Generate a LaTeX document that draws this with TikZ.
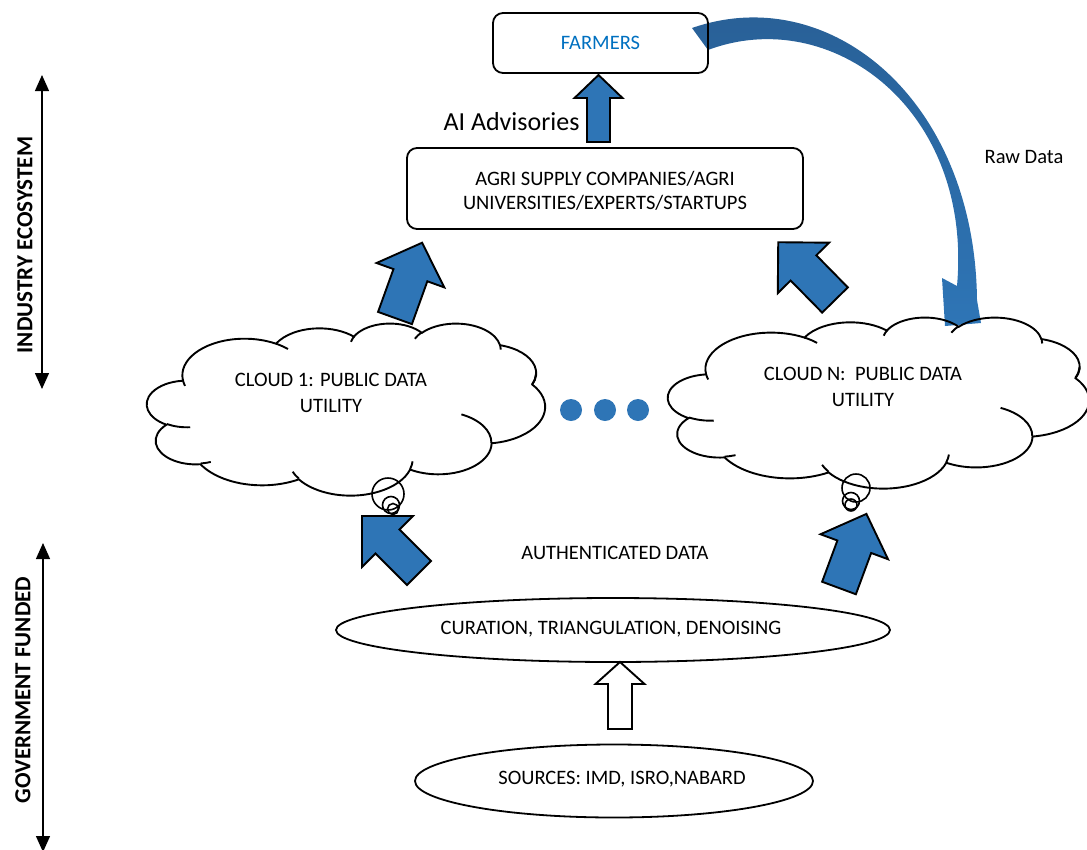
\documentclass[tikz,border=0pt]{standalone}
\usepackage{fontspec}
\setmainfont{Carlito}
\usetikzlibrary{arrows.meta,shapes.geometric}
\definecolor{ablue}{RGB}{46,117,182}
\definecolor{fblue}{RGB}{0,112,192}
\definecolor{cdark}{RGB}{40,94,148}
% OOXML arcTo (visual angles) -> TikZ parametric arc
\newcommand\oacompute[4]{%
  \pgfmathsetmacro\oath{#3}%
  \pgfmathsetmacro\oatz{#3+#4}%
  \pgfmathsetmacro\oata{atan2(#1*sin(\oath),#2*cos(\oath))}%
  \pgfmathsetmacro\oatb{atan2(#1*sin(\oatz),#2*cos(\oatz))}%
  \pgfmathsetmacro\oatd{\oatb-\oata}%
  \pgfmathsetmacro\oatd{(#4>0)?((\oatd<0)?(\oatd+360):\oatd):((\oatd>0)?(\oatd-360):\oatd)}%
  \xdef\oaS{\oata}\xdef\oaD{\oatd}}
\newcommand\oarc[4]{\pgfextra{\oacompute{#1}{#2}{#3}{#4}} arc[x radius=#1, y radius=#2, start angle=\oaS, delta angle=\oaD]}
\newcommand\cloudoutline{(39.00,143.70)
  \oarc{67.53}{91.90}{-190.4875}{123.7805}
  \oarc{53.33}{72.67}{-144.1024}{89.9452}
  \oarc{43.65}{59.45}{-145.8079}{99.7230}
  \oarc{48.57}{65.95}{-130.9861}{117.2417}
  \oarc{53.33}{72.73}{-78.7089}{109.0269}
  \oarc{67.75}{92.20}{-46.2673}{130.2690}
  \oarc{57.85}{78.67}{0.6250}{114.0333}
  \oarc{67.52}{92.15}{22.4516}{115.1726}
  \oarc{77.20}{105.43}{66.2426}{75.7110}
  \oarc{43.60}{59.18}{-274.9421}{146.7356}
  \oarc{43.45}{59.45}{-246.8285}{152.5189} -- cycle}
\newcommand\cloudcreases{(46.93,261.77) \oarc{43.45}{59.45}{86.7420}{26.4295}
  (69.28,348.99) \oarc{43.60}{59.18}{73.6105}{11.4475}
  (164.78,390.90) \oarc{67.52}{92.15}{137.6242}{14.0811}
  (288.27,347.51) \oarc{67.52}{92.15}{6.4533}{15.9984}
  (341.29,229.54) \oarc{57.85}{78.67}{-70.2924}{70.9174}
  (417.98,153.54) \oarc{53.33}{72.73}{30.3180}{-27.7515}
  (383.24,54.26) \oarc{48.57}{65.95}{-13.7443}{14.8589}
  (290.78,39.52) \oarc{48.57}{65.95}{-149.1815}{18.1954}
  (221.41,47.20) \oarc{43.65}{59.45}{-163.4943}{17.6864}
  (140.00,51.92) \oarc{67.53}{91.90}{-66.7070}{12.3194}
  (41.27,157.89) \oarc{67.53}{91.90}{157.6544}{11.8582}}
% block arrow: tail x, tail y, angle, length, shaft half width, head half width, head length, fill
\newcommand\blockarr[8]{%
  \draw[barrow, fill=#8, shift={(#1,#2)}, rotate=#3]
    (0,-#5) -- ({#4-#7},-#5) -- ({#4-#7},-#6) -- (#4,0) -- ({#4-#7},#6) -- ({#4-#7},#5) -- (0,#5) -- cycle;}
\begin{document}
\begin{tikzpicture}[x=1pt,y=-1pt,
  txt/.style={font=\fontsize{20.5pt}{26pt}\selectfont, align=center, inner sep=0pt},
  vlab/.style={font=\bfseries\fontsize{23pt}{26pt}\selectfont, rotate=90, inner sep=0pt},
  box/.style={draw, line width=1.8pt, rounded corners=10pt, inner sep=0pt, font=\fontsize{20.5pt}{25pt}\selectfont, align=center},
  ell/.style={draw, ellipse, line width=1.8pt, inner sep=0pt},
  barrow/.style={draw=black, line width=1.9pt, line join=miter},
  cloudline/.style={draw, line width=1.9pt},
  bub/.style={draw, circle, line width=1.6pt, inner sep=0pt},
  dot/.style={circle, fill=ablue, inner sep=0pt, minimum size=22pt},
  axis/.style={line width=1.3pt, {Triangle[width=14pt,length=16pt]}-{Triangle[width=14pt,length=16pt]}}]
\useasboundingbox (0,0) rectangle (1087,849);

% side axes
\coordinate (i1) at (42,75); \coordinate (i2) at (42,389);
\coordinate (g1) at (43,543); \coordinate (g2) at (43,852);
\draw[axis] (i1) -- (i2);
\draw[axis] (g1) -- (g2);
\node[vlab] (indlab) at (25,245) {INDUSTRY ECOSYSTEM};
\node[vlab] (govlab) at (23,690) {GOVERNMENT FUNDED};

% curved "raw data" arrow
\shade[top color=cdark, bottom color=ablue]
  (692,28) .. controls (830,-20) and (975,100) .. (977,300)
  -- (981,323) -- (945,326) -- (942,278) -- (957,286)
  .. controls (973,108) and (830,4) .. (708,50) -- cycle;

% boxes
\node[box, minimum width=215pt, minimum height=60pt, text=fblue] (farmers) at (600.5,43) {FARMERS};
\node[box, minimum width=396pt, minimum height=81pt] (agri) at (605,188.5) {};
\node[txt, font=\fontsize{20.5pt}{24.5pt}\selectfont] (agrit) at (605,191) {AGRI SUPPLY COMPANIES/AGRI\\UNIVERSITIES/EXPERTS/STARTUPS};
\node[txt, font=\fontsize{26pt}{30pt}\selectfont] (aiadv) at (511.5,122) {AI Advisories};
\node[txt] (raw) at (1024,157) {Raw Data};

% clouds
\begin{scope}[shift={(147,323)}, xscale=398/432, yscale=172/432]
  \draw[cloudline] \cloudoutline;
  \draw[cloudline] \cloudcreases;
\end{scope}
\begin{scope}[shift={(668,317)}, xscale=421/432, yscale=171/432]
  \draw[cloudline] \cloudoutline;
  \draw[cloudline] \cloudcreases;
\end{scope}
\node[txt] (c1) at (331,393) {CLOUD 1: PUBLIC DATA\\UTILITY};
\node[txt] (cn) at (863,387) {CLOUD N:\ \ PUBLIC DATA\\UTILITY};

% thought bubbles
\node[bub, minimum size=32pt] (lb1) at (388,494) {};
\node[bub, minimum size=17pt] (lb2) at (391,505) {};
\node[bub, minimum size=11pt] (lb3) at (393,509) {};
\node[bub, minimum size=28pt] (rb1) at (856,488) {};
\node[bub, minimum size=17pt] (rb2) at (851,501) {};
\node[bub, minimum size=12pt] (rb3) at (851,505) {};

% dots
\node[dot] (d1) at (571,410) {};
\node[dot] (d2) at (605,410) {};
\node[dot] (d3) at (638,410) {};

% block arrows
\blockarr{598.5}{142}{90}{67}{11.5}{24}{23}{ablue}
\blockarr{395}{318}{70.2}{80}{18}{36}{34.5}{ablue}
\blockarr{835}{300}{134.5}{81}{18}{36}{36}{ablue}
\blockarr{419}{573}{135}{80.6}{17}{36}{36}{ablue}
\blockarr{839}{588}{69.7}{79}{18}{36}{35}{ablue}
\blockarr{620}{729}{90}{67}{12}{24.5}{22}{white}

% lower part
\node[txt] (auth) at (615,553) {AUTHENTICATED DATA};
\node[ell, minimum width=554pt, minimum height=64pt] (cur) at (613,630) {};
\node[txt] (curt) at (611,629) {CURATION, TRIANGULATION, DENOISING};
\node[ell, minimum width=398pt, minimum height=73pt] (src) at (614,781) {};
\node[txt] (srct) at (622,779) {SOURCES: IMD, ISRO,NABARD};
\end{tikzpicture}
\end{document}
